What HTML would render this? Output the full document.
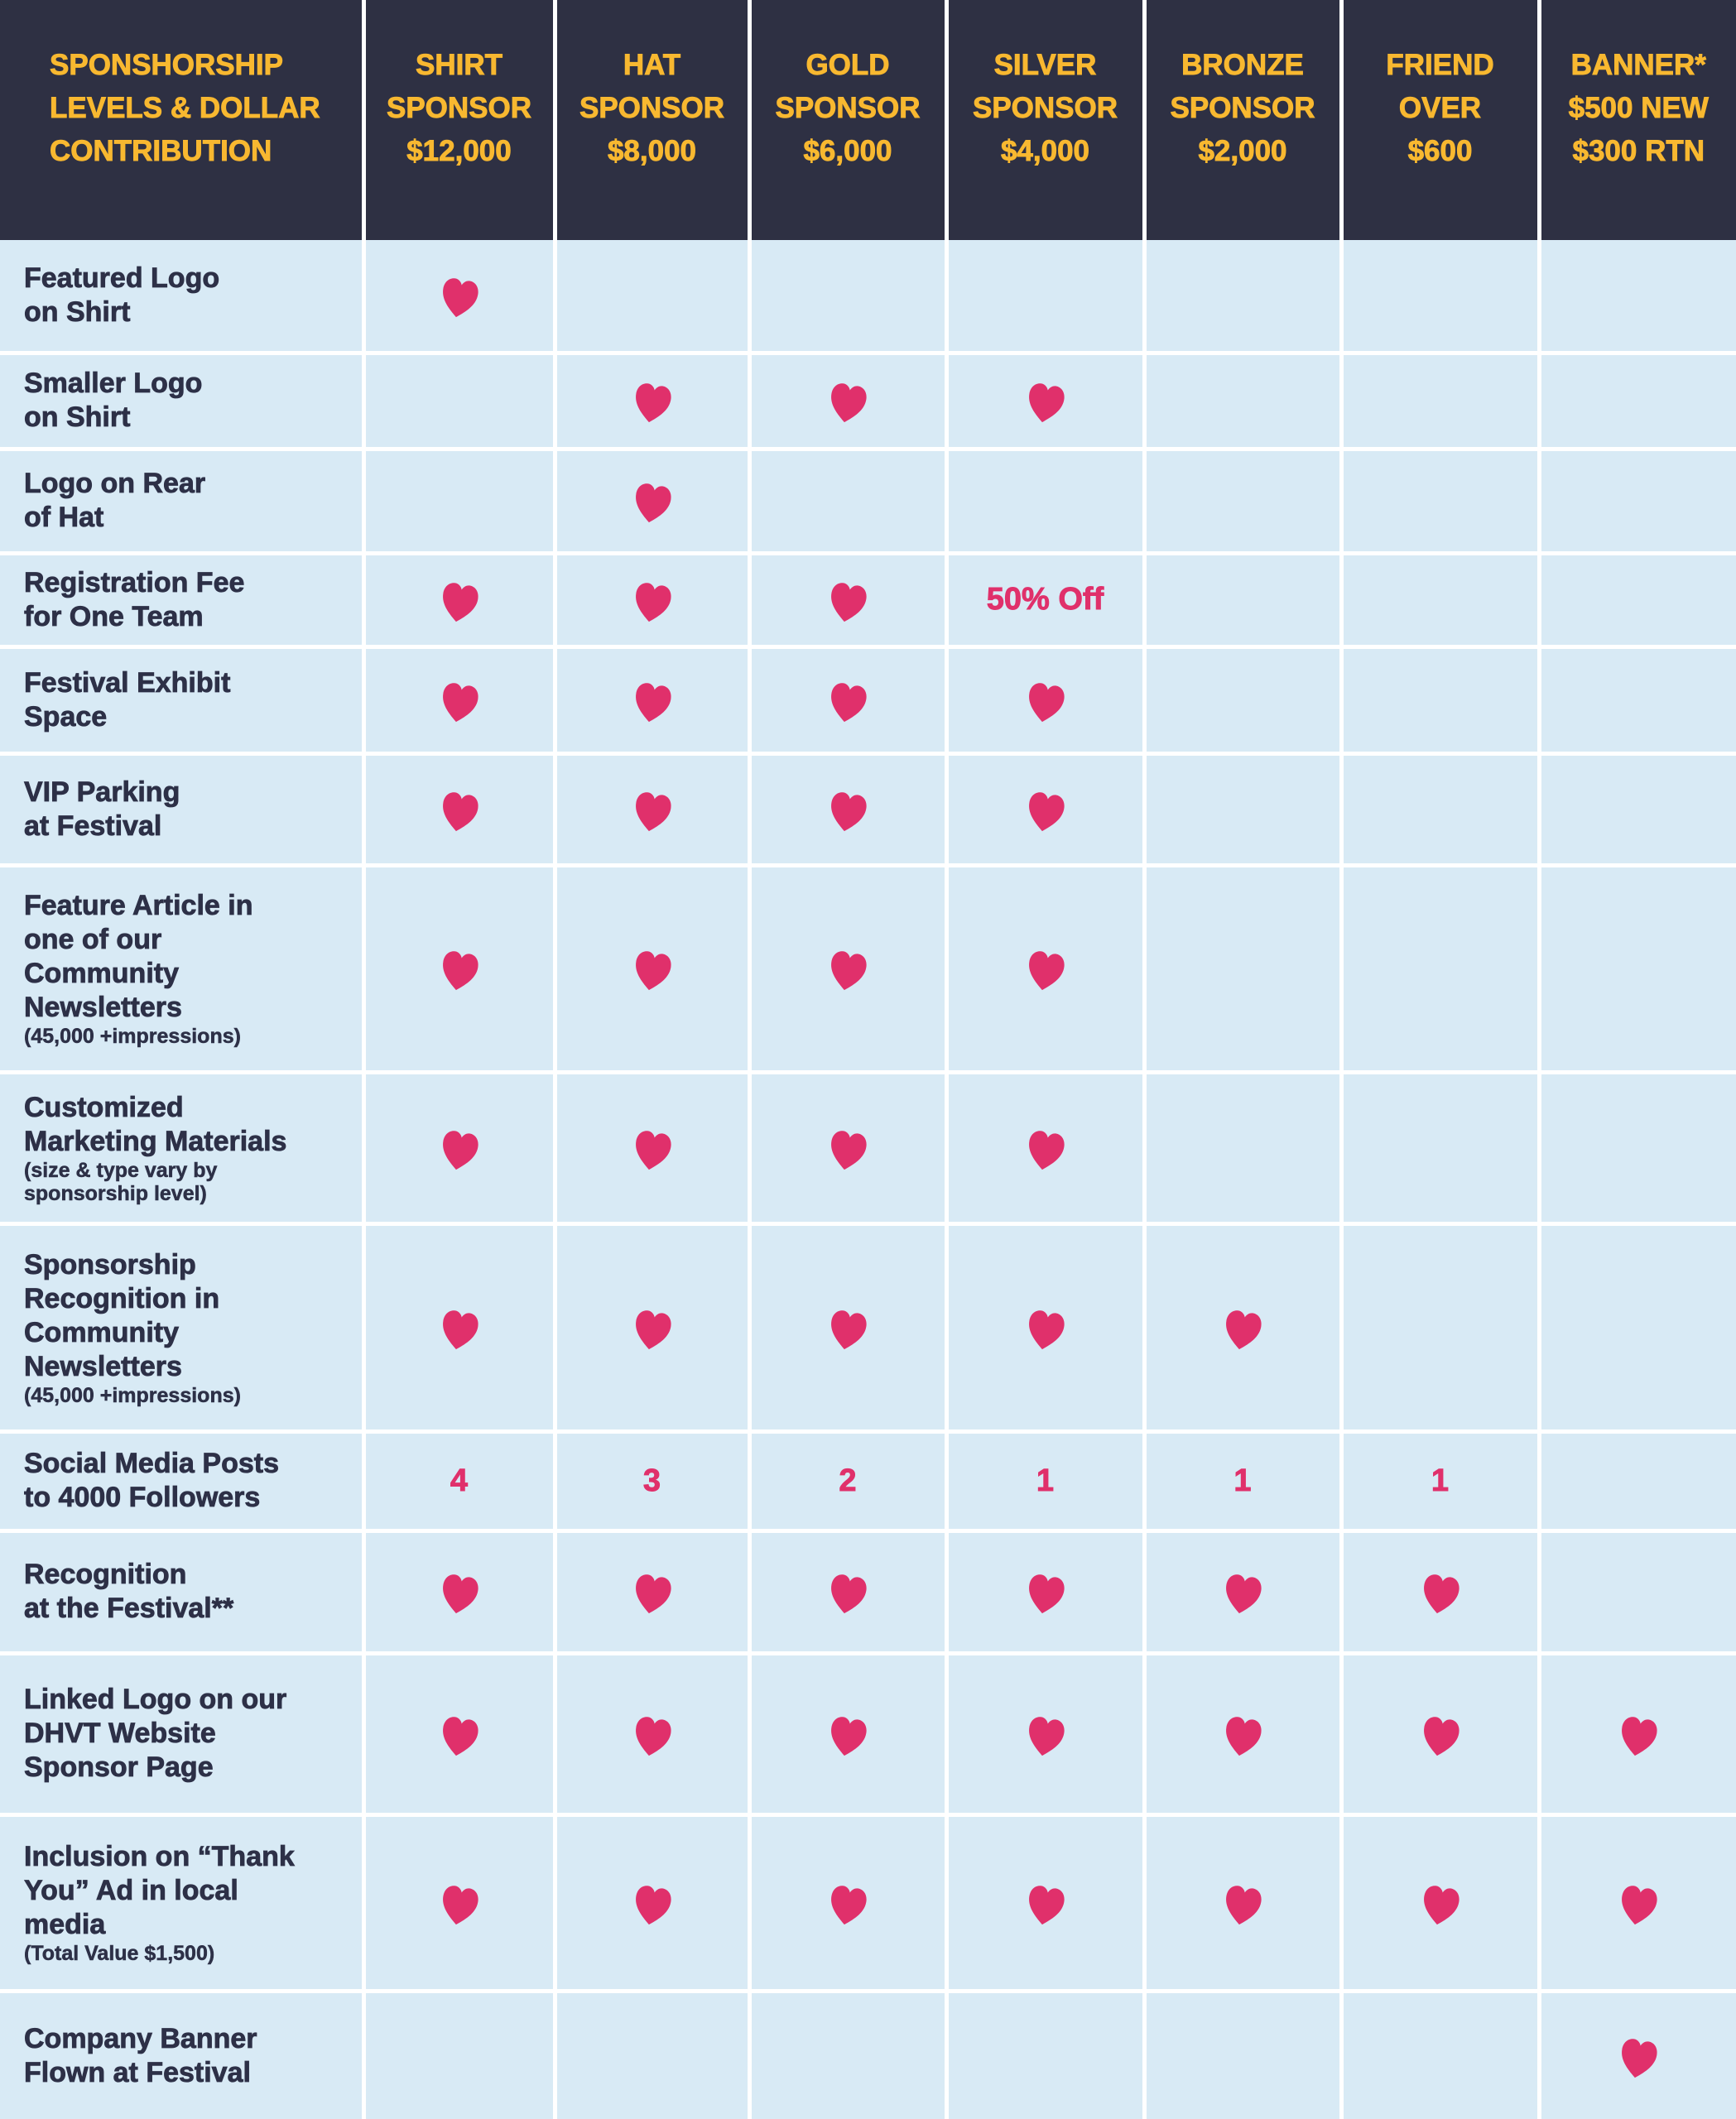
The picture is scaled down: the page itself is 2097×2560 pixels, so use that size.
<!DOCTYPE html>
<html><head><meta charset="utf-8">
<style>
*{margin:0;padding:0;box-sizing:border-box}
body{width:2097px;height:2560px;background:#fff;position:relative;overflow:hidden;font-family:"Liberation Sans",sans-serif;font-weight:bold}
.c{position:absolute;display:flex;align-items:center;justify-content:center}
.h{background:#2e3043;color:#f8b830;font-size:35px;line-height:52px;text-align:center;align-items:flex-start;padding-top:53px;-webkit-text-stroke:0.9px #f8b830}
.b{background:#d8eaf5}
.l{justify-content:flex-start;padding-left:29px;color:#2d3047;font-size:34px;line-height:41px;-webkit-text-stroke:0.8px #2d3047}
.s{font-size:25px;line-height:28px;display:block;-webkit-text-stroke:0.5px #2d3047}
.p{color:#e0306b;font-size:38px;-webkit-text-stroke:0.9px #e0306b}
svg{width:56px;height:54px;margin-top:6px}
</style></head><body>
<div id="t"></div>
<script>
const E=[0,439,670,905,1143,1382,1620,1859,2097];
const R=[290,426,542,668,781,910,1045,1295,1478,1729,1849,1997,2192,2405,2560];
const H=["SPONSHORSHIP<br>LEVELS &amp; DOLLAR<br>CONTRIBUTION","SHIRT<br>SPONSOR<br>$12,000","HAT<br>SPONSOR<br>$8,000","GOLD<br>SPONSOR<br>$6,000","SILVER<br>SPONSOR<br>$4,000","BRONZE<br>SPONSOR<br>$2,000","FRIEND<br>OVER<br>$600","BANNER*<br>$500 NEW<br>$300 RTN"];
const L=["Featured Logo<br>on Shirt","Smaller Logo<br>on Shirt","Logo on Rear<br>of Hat","Registration Fee<br>for One Team","Festival Exhibit<br>Space","VIP Parking<br>at Festival","Feature Article in<br>one of our<br>Community<br>Newsletters<span class=s>(45,000 +impressions)</span>","Customized<br>Marketing Materials<span class=s>(size &amp; type vary by<br>sponsorship level)</span>","Sponsorship<br>Recognition in<br>Community<br>Newsletters<span class=s>(45,000 +impressions)</span>","Social Media Posts<br>to 4000 Followers","Recognition<br>at the Festival**","Linked Logo on our<br>DHVT Website<br>Sponsor Page","Inclusion on “Thank<br>You” Ad in local<br>media<span class=s>(Total Value $1,500)</span>","Company Banner<br>Flown at Festival"];
const V=[
"h......",".hhh...",".h.....","hhhP...","hhhh...","hhhh...","hhhh...","hhhh...","hhhhh..","432111.","hhhhhh.","hhhhhhh","hhhhhhh","......h"];
const heart='<svg viewBox="0 0 50 48"><path transform="rotate(10 25 24)" d="M25 45 C18 39 6 30 6 17 C6 9 11 4 17 4 C21 4 24 7 25 10 C26 7 29 4 33 4 C39 4 44 9 44 17 C44 30 32 39 25 45Z" fill="#e0306b"/></svg>';
let o="";
for(let i=0;i<8;i++){const x=E[i]+(i?2.5:0),w=E[i+1]-E[i]-(i?2.5:0)-(i<7?2.5:0);
o+=`<div class="c h" style="left:${x}px;top:0;width:${w}px;height:290px;${i==0?'justify-content:flex-start;padding-left:60px;text-align:left':''}">${H[i]}</div>`;}
for(let r=0;r<14;r++){const y=R[r]+(r?2.5:0),h=R[r+1]-R[r]-(r?2.5:0)-(r<13?2.5:0);
for(let i=0;i<8;i++){const x=E[i]+(i?2.5:0),w=E[i+1]-E[i]-(i?2.5:0)-(i<7?2.5:0);
let c="";if(i==0)c=`<div>${L[r]}</div>`;else{const v=V[r][i-1];if(v=="h")c=heart;else if(v=="P")c='<span class=p>50% Off</span>';else if(v!=".")c=`<span class=p>${v}</span>`;}
o+=`<div class="c b${i==0?' l':''}" style="left:${x}px;top:${y}px;width:${w}px;height:${h}px">${c}</div>`;}}
document.getElementById("t").innerHTML=o;
</script>
</body></html>
